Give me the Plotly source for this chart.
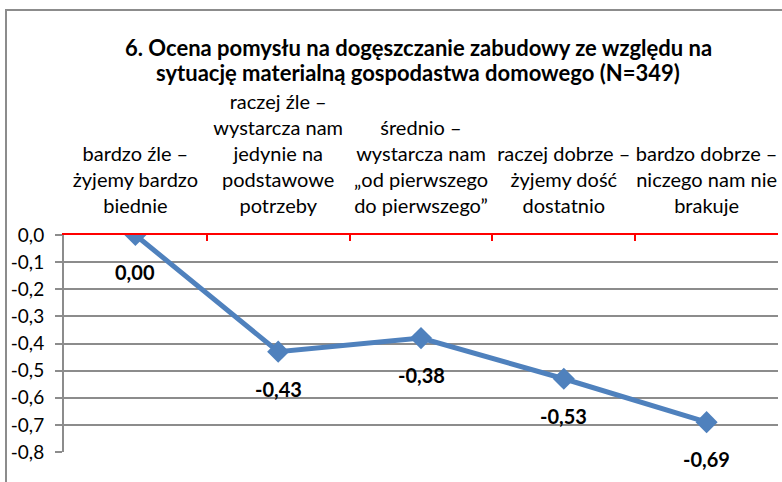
import plotly.graph_objects as go

categories = [
    "bardzo źle –<br>żyjemy bardzo<br>biednie",
    "raczej źle –<br>wystarcza nam<br>jedynie na<br>podstawowe<br>potrzeby",
    "średnio –<br>wystarcza nam<br>„od pierwszego<br>do pierwszego”",
    "raczej dobrze –<br>żyjemy dość<br>dostatnio",
    "bardzo dobrze –<br>niczego nam nie<br>brakuje",
]
values = [0.00, -0.43, -0.38, -0.53, -0.69]
value_labels = ["0,00", "-0,43", "-0,38", "-0,53", "-0,69"]
y_tickvals = [0.0, -0.1, -0.2, -0.3, -0.4, -0.5, -0.6, -0.7, -0.8]
y_ticktext = ["0,0", "-0,1", "-0,2", "-0,3", "-0,4", "-0,5", "-0,6", "-0,7", "-0,8"]
title_lines = ["6. Ocena pomysłu na dogęszczanie zabudowy ze względu na",
               "sytuację materialną gospodastwa domowego (N=349)"]

FONT = "Lato"
L, R, T, B = 64, 4, 235, 30
W, H = 782, 482
PW, PH = W - L - R, H - T - B

def px_x(x):
    return (x - L) / PW

def px_y(y):
    return (H - B - y) / PH

fig = go.Figure()
fig.add_trace(go.Scatter(
    x=categories, y=values, mode="lines+markers",
    line=dict(color="#4F81BD", width=5),
    marker=dict(symbol="diamond", size=17, color="#4F81BD"),
    showlegend=False, hoverinfo="skip",
))
for c, v, t in zip(categories, values, value_labels):
    fig.add_annotation(x=c, y=v, text=f"<b>{t}</b>", showarrow=False,
                       yshift=-37, font=dict(family=FONT, size=20, color="black"))

for i, line in enumerate(title_lines):
    fig.add_annotation(xref="paper", yref="paper", x=px_x(418), y=px_y(47 + 25 * i),
                       text=f"<b>{line}</b>", showarrow=False,
                       xanchor="center", yanchor="middle",
                       font=dict(family=FONT, size=22, color="black"))

fig.update_layout(
    width=W, height=H,
    margin=dict(l=L, r=R, t=T, b=B, autoexpand=False),
    paper_bgcolor="white", plot_bgcolor="white",
    font=dict(family=FONT, color="black"),
    shapes=[dict(type="rect", xref="paper", yref="paper",
                 x0=px_x(6), x1=px_x(800), y0=px_y(500), y1=px_y(10),
                 line=dict(color="#8C8C8C", width=2), layer="below")],
)
fig.update_xaxes(
    side="top", type="category", tickson="boundaries", automargin=False,
    tickangle=0,
    showline=True, linecolor="#FF0000", linewidth=2,
    ticks="inside", ticklen=6, tickcolor="#FF0000", tickwidth=2,
    showgrid=False, tickfont=dict(family=FONT, size=20, color="black"),
    ticklabelstandoff=12, range=[-0.5, 4.5],
)
fig.update_yaxes(
    range=[-0.8, 0.0], tickvals=y_tickvals, ticktext=y_ticktext, automargin=False,
    showline=True, linecolor="#8C8C8C", linewidth=2,
    ticks="outside", ticklen=7, tickcolor="#8C8C8C", tickwidth=2,
    showgrid=True, gridcolor="#8C8C8C", gridwidth=2,
    zeroline=False, tickfont=dict(family=FONT, size=19, color="black"),
    ticklabelstandoff=7,
)
fig.write_html("out.html", config={"displayModeBar": False},
               post_script="document.body.style.margin='0';document.body.style.overflow='hidden';")
